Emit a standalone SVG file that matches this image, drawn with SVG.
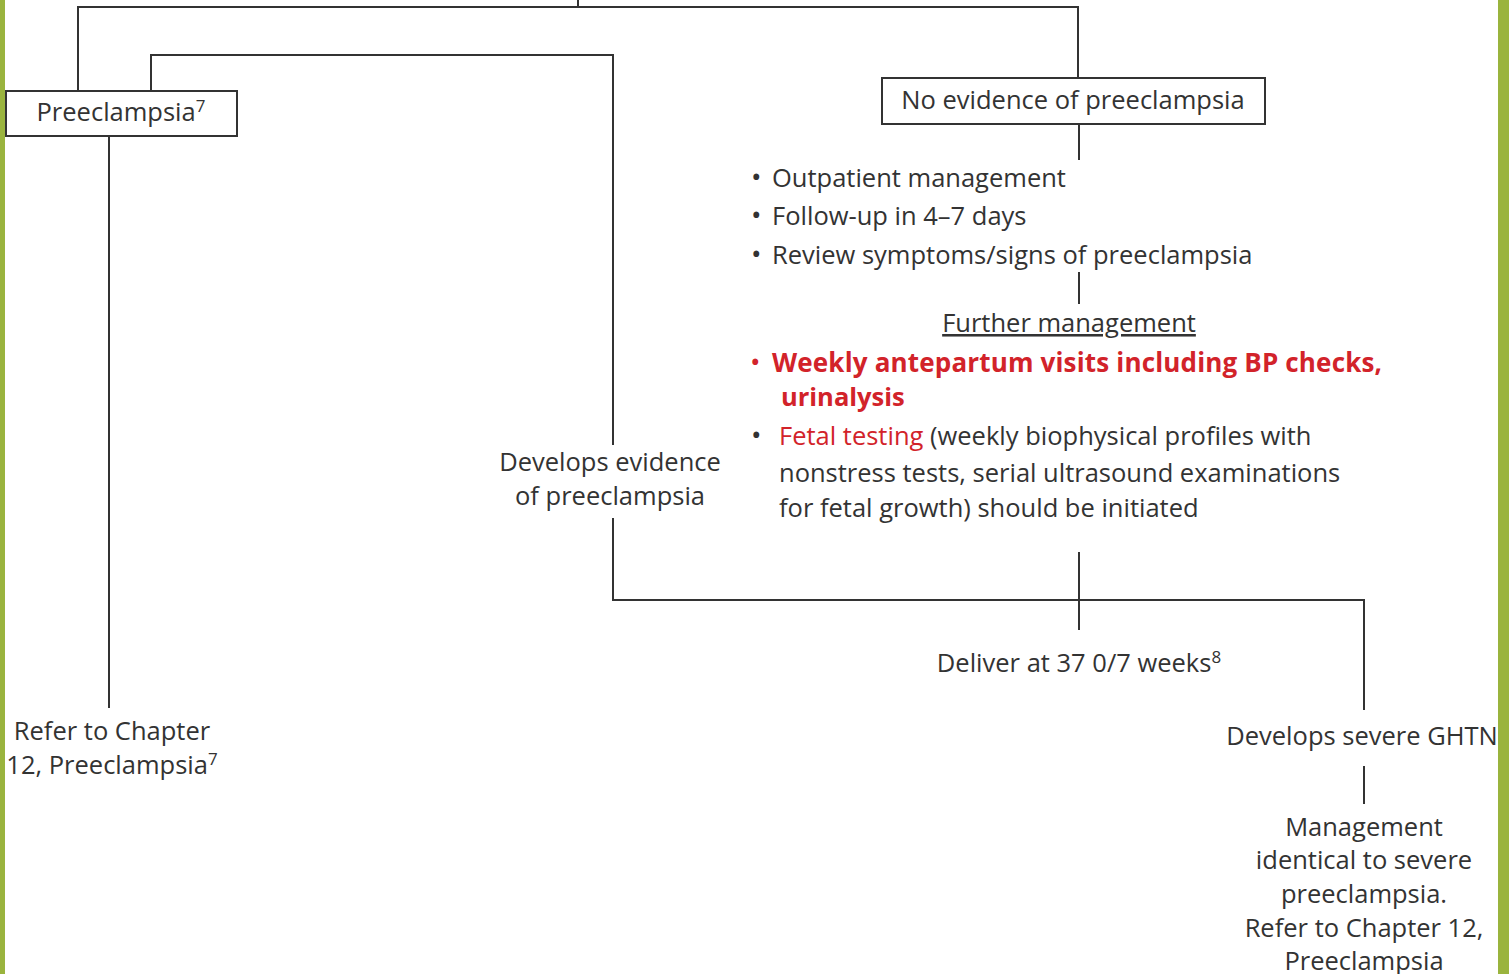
<svg xmlns="http://www.w3.org/2000/svg" width="1509" height="974" viewBox="0 0 1509 974">
<style>
text{font-family:"Open Sans","Noto Sans","Liberation Sans",sans-serif;font-size:25.5px;fill:#333}
.c{text-anchor:middle}
.red{fill:#d2232a}
.b{font-weight:bold}
.box{fill:#fff;stroke:#333;stroke-width:2}
.ln{fill:none;stroke:#333;stroke-width:2}
.sup{font-size:17px}
.bul{font-size:28px}
</style>
<rect width="1509" height="974" fill="#fff"/>
<rect x="0" y="0" width="5" height="974" fill="#9ab43e"/>
<rect x="1498" y="0" width="11" height="974" fill="#9ab43e"/>
<g id="connectors">
<path class="ln" d="M578 0V7M78 91V7H1078V78"/>
<path class="ln" d="M151 91V55H613V445"/>
<path class="ln" d="M109 136V708"/>
<path class="ln" d="M1079 124V160"/>
<path class="ln" d="M1079 272V304"/>
<path class="ln" d="M613 518V600H1364V710"/>
<path class="ln" d="M1079 552V630"/>
<path class="ln" d="M1364 766V804"/>
</g>
<g id="preeclampsia">
<rect class="box" x="6" y="91" width="231" height="45"/>
<text x="121" y="121" class="c">Preeclampsia<tspan class="sup" dy="-9">7</tspan></text>
</g>
<g id="no-evidence">
<rect class="box" x="882" y="78" width="383" height="46"/>
<text x="1073" y="109" class="c">No evidence of preeclampsia</text>
</g>
<g id="outpatient">
<text x="751" y="187"><tspan class="bul">•</tspan><tspan x="772" y="187">Outpatient management</tspan></text>
<text x="751" y="225"><tspan class="bul">•</tspan><tspan x="772" y="225">Follow-up in 4–7 days</tspan></text>
<text x="751" y="264"><tspan class="bul">•</tspan><tspan x="772" y="264">Review symptoms/signs of preeclampsia</tspan></text>
</g>
<g id="further">
<text x="1069" y="332" class="c" text-decoration="underline">Further management</text>
<text x="750" y="372" class="red"><tspan class="bul">•</tspan><tspan x="772" y="372" class="b" font-size="26" textLength="610">Weekly antepartum visits including BP checks,</tspan></text>
<text x="781" y="406" class="red b" font-size="26">urinalysis</text>
<text x="751" y="445"><tspan class="bul">•</tspan><tspan x="779" y="445" class="red">Fetal testing</tspan> (weekly biophysical profiles with</text>
<text x="779" y="482">nonstress tests, serial ultrasound examinations</text>
<text x="779" y="517">for fetal growth) should be initiated</text>
</g>
<g id="develops-evidence">
<text x="610" y="471" class="c">Develops evidence</text>
<text x="610" y="505" class="c">of preeclampsia</text>
</g>
<g id="deliver">
<text x="1079" y="672" class="c">Deliver at 37 0/7 weeks<tspan class="sup" dy="-9">8</tspan></text>
</g>
<g id="refer">
<text x="112" y="740" class="c">Refer to Chapter</text>
<text x="112" y="774" class="c">12, Preeclampsia<tspan class="sup" dy="-9">7</tspan></text>
</g>
<g id="severe">
<text x="1362" y="745" class="c">Develops severe GHTN</text>
</g>
<g id="management">
<text x="1364" y="836" class="c">Management</text>
<text x="1364" y="869" class="c">identical to severe</text>
<text x="1364" y="903" class="c">preeclampsia.</text>
<text x="1364" y="937" class="c">Refer to Chapter 12,</text>
<text x="1364" y="970" class="c">Preeclampsia</text>
</g>
</svg>
